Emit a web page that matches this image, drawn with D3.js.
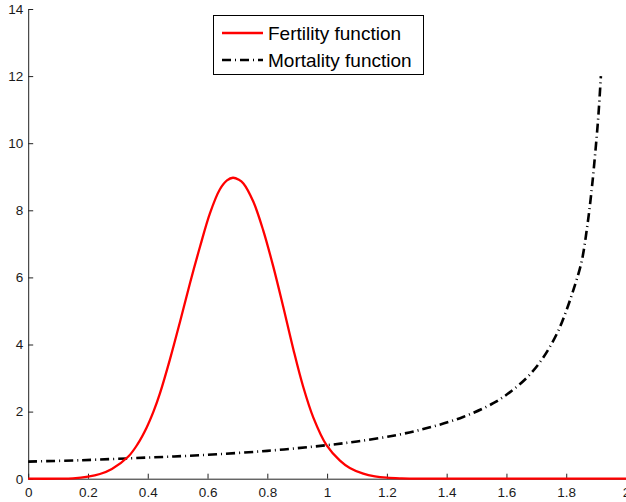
<!DOCTYPE html>
<html>
<head>
<meta charset="utf-8">
<script src="https://cdn.jsdelivr.net/npm/d3@7"></script>
<style>
  body { margin: 0; background: #fff; }
  svg { display: block; }
</style>
</head>
<body>
<svg id="chart" width="626" height="502"></svg>
<script>
// values
const fertX = [0, 0.1, 0.15, 0.2, 0.24, 0.28, 0.335, 0.366, 0.396, 0.42, 0.441, 0.474, 0.508, 0.541, 0.575, 0.608, 0.641, 0.665, 0.685, 0.705, 0.72, 0.753, 0.786, 0.82, 0.853, 0.887, 0.92, 0.954, 0.998, 1.043, 1.076, 1.121, 1.16, 1.2, 1.25, 1.3, 1.4, 2.0];
const fertY = [0, 0, 0.01, 0.06, 0.14, 0.29, 0.66, 1.03, 1.52, 2.02, 2.55, 3.55, 4.68, 5.82, 6.92, 7.91, 8.62, 8.89, 8.97, 8.91, 8.80, 8.26, 7.41, 6.32, 5.13, 3.86, 2.74, 1.82, 1.0, 0.54, 0.32, 0.15, 0.07, 0.03, 0.01, 0, 0, 0];

const mortX = [0, 0.173, 0.4, 0.575, 0.8, 1.0, 1.1, 1.232, 1.344, 1.455, 1.556, 1.612, 1.667, 1.706, 1.74, 1.773, 1.8, 1.823, 1.851, 1.87, 1.885, 1.896, 1.907, 1.916];
const mortY = [0.51, 0.55, 0.63, 0.70, 0.83, 1.0, 1.11, 1.3, 1.53, 1.84, 2.25, 2.58, 3.0, 3.4, 3.85, 4.4, 5.0, 5.6, 6.45, 7.5, 8.6, 9.6, 10.75, 12.0];

const xTicks = [0, 0.2, 0.4, 0.6, 0.8, 1, 1.2, 1.4, 1.6, 1.8, 2];
const yTicks = [0, 2, 4, 6, 8, 10, 12, 14];
const seriesNames = ["Fertility function", "Mortality function"];

const svg = d3.select("#chart");
const margin = { top: 9, right: 0, bottom: 23, left: 29 };
const width = 626, height = 502;

const x = d3.scaleLinear().domain([0, 2]).range([margin.left - 0.8, 626]);
const y = d3.scaleLinear().domain([0, 14]).range([height - margin.bottom - 0.3, margin.top]);

const font = "'Liberation Sans', Arial, sans-serif";

// axes (MATLAB style: ticks inward, no box)
const xAxis = svg.append("g")
  .attr("transform", `translate(0,${y(0)})`)
  .call(d3.axisBottom(x).tickValues(xTicks).tickSizeInner(-5).tickSizeOuter(0).tickPadding(9)
    .tickFormat(d3.format("~g")));
const yAxis = svg.append("g")
  .attr("transform", `translate(${x(0)},0)`)
  .call(d3.axisLeft(y).tickValues(yTicks).tickSizeInner(-5).tickSizeOuter(0).tickPadding(5));

[xAxis, yAxis].forEach(g => {
  g.select(".domain").attr("stroke", "#222");
  g.selectAll(".tick line").attr("stroke", "#222");
  g.selectAll("text").attr("fill", "#1a1a1a").style("font-family", font).style("font-size", "13.5px");
});

const fert = fertX.map((v, i) => [v, fertY[i]]);
const mort = mortX.map((v, i) => [v, mortY[i]]);

const line = d3.line()
  .x(d => x(d[0]))
  .y(d => y(d[1]))
  .curve(d3.curveCatmullRom.alpha(0.5));

svg.append("path")
  .datum(mort)
  .attr("d", line)
  .attr("fill", "none")
  .attr("stroke", "#000")
  .attr("stroke-width", 2.6)
  .attr("stroke-dasharray", "9,4,1,4");

svg.append("path")
  .datum(fert)
  .attr("d", line)
  .attr("fill", "none")
  .attr("stroke", "#ff0000")
  .attr("stroke-width", 2.3);

// legend
const legend = svg.append("g");
legend.append("rect")
  .attr("x", 213.5).attr("y", 15.5)
  .attr("width", 210).attr("height", 59)
  .attr("fill", "#fff").attr("stroke", "#000").attr("stroke-width", 1);

const legendStyles = [
  { stroke: "#ff0000", dash: null, w: 2.3 },
  { stroke: "#000", dash: "9,4,1,4", w: 2.6 }
];
seriesNames.forEach((name, i) => {
  const ly = 33 + i * 27;
  legend.append("line")
    .attr("x1", 222).attr("x2", 263)
    .attr("y1", ly).attr("y2", ly)
    .attr("stroke", legendStyles[i].stroke)
    .attr("stroke-width", legendStyles[i].w)
    .attr("stroke-dasharray", legendStyles[i].dash);
  legend.append("text")
    .attr("x", 268).attr("y", ly + 6.5)
    .style("font-family", font)
    .style("font-size", "19px")
    .attr("fill", "#000")
    .text(name);
});
</script>
</body>
</html>
